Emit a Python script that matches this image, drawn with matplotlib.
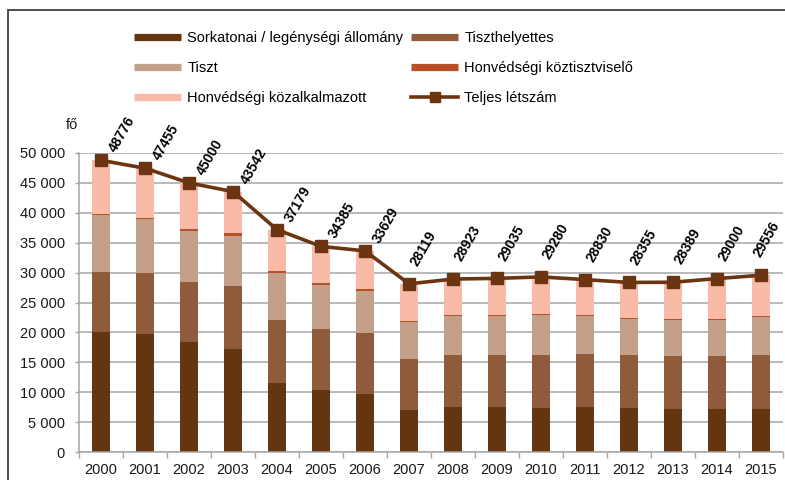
import numpy as np
import matplotlib
matplotlib.use("Agg")
import matplotlib.pyplot as plt
from matplotlib.lines import Line2D
from matplotlib.patches import Rectangle
from matplotlib.ticker import FuncFormatter, FixedLocator

plt.rcParams['font.family'] = ['Liberation Sans', 'DejaVu Sans']
plt.rcParams['font.size'] = 10.5

# Adatok (fő)
evek = ['2000', '2001', '2002', '2003', '2004', '2005', '2006', '2007',
        '2008', '2009', '2010', '2011', '2012', '2013', '2014', '2015']
sorkatonai = [20000, 19800, 18400, 17200, 11500, 10400, 9700, 7000,
              7500, 7500, 7350, 7500, 7350, 7250, 7200, 7200]
tiszthelyettes = [10100, 10200, 10100, 10500, 10600, 10200, 10200, 8550,
                  8700, 8700, 8950, 8900, 8850, 8800, 8900, 9100]
tiszt = [9500, 9000, 8400, 8500, 7800, 7300, 7100, 6250,
         6500, 6500, 6600, 6300, 6000, 5950, 6000, 6300]
koztisztviselo = [200, 200, 400, 400, 300, 300, 300, 100,
                  200, 200, 100, 200, 200, 200, 100, 100]
kozalkalmazott = [8976, 8255, 7700, 6942, 6979, 6185, 6329, 6219,
                  6023, 6135, 6280, 5930, 5955, 6189, 6800, 6856]
teljes = [48776, 47455, 45000, 43542, 37179, 34385, 33629, 28119,
          28923, 29035, 29280, 28830, 28355, 28389, 29000, 29556]

c_sork = '#633511'
c_tiszth = '#8f5b3a'
c_tiszt = '#c4a08a'
c_koztisztv = '#b94f27'
c_kozalk = '#f9baa8'
c_line = '#6b3511'

fig = plt.figure(figsize=(7.85, 4.80), dpi=100)
W, H = 785, 480
ax = fig.add_axes([79 / W, 28 / H, 704 / W, 299 / H])

x = np.arange(len(evek))
w = 0.41
alja = np.zeros(len(evek))
for adat, szin in [(sorkatonai, c_sork), (tiszthelyettes, c_tiszth),
                   (tiszt, c_tiszt), (koztisztviselo, c_koztisztv),
                   (kozalkalmazott, c_kozalk)]:
    ax.bar(x, adat, w, bottom=alja, color=szin, zorder=2)
    alja += np.array(adat)

ax.plot(x, teljes, color=c_line, lw=2.6, marker='s', markersize=8.5, zorder=3)

# feliratok: az elején közelebb a ponthoz, később feljebb
for i, (xi, v) in enumerate(zip(x, teljes)):
    if i <= 6:
        off = (4, 4)
    elif i == len(x) - 1:
        off = (-7, 11)
    else:
        off = (-1, 11)
    ax.annotate(str(v), (xi, v), xytext=off, textcoords='offset points',
                rotation=60, ha='left', va='bottom',
                fontsize=10, fontweight='bold', color='black', annotation_clip=False)

ax.set_xlim(-0.5, len(evek) - 0.5)
ax.set_ylim(0, 50000)
ax.set_yticks(np.arange(0, 50001, 5000))
ax.yaxis.set_major_formatter(FuncFormatter(lambda v, p: f"{v:,.0f}".replace(",", " ")))
ax.grid(axis='y', color='#a6a6a6', lw=1.1, zorder=0)
ax.set_axisbelow(True)

ax.set_xticks(x)
ax.set_xticklabels(evek)
ax.xaxis.set_minor_locator(FixedLocator(np.arange(-0.5, len(evek), 1.0)))
ax.tick_params(axis='x', which='major', length=0, pad=8, labelsize=10.5, labelcolor='#1a1a1a')
ax.tick_params(axis='x', which='minor', length=4, color='#a6a6a6', width=1)
ax.tick_params(axis='y', length=3, color='#a6a6a6', width=1, pad=7, labelsize=10.5, labelcolor='#1a1a1a')

for s in ['top', 'right']:
    ax.spines[s].set_visible(False)
ax.spines['left'].set_color('#a6a6a6')
ax.spines['bottom'].set_color('#a6a6a6')
ax.spines['left'].set_linewidth(1.1)
ax.spines['bottom'].set_linewidth(1.1)

fig.text(72 / W, 1 - 125 / H, 'fő', ha='center', va='center', fontsize=10.5, color='#1a1a1a')

# jelmagyarázat
def sav(c):
    return Line2D([], [], color=c, lw=5.2, solid_capstyle='butt')

kezelok = [sav(c_sork), sav(c_tiszt), sav(c_kozalk),
           sav(c_tiszth), sav(c_koztisztv),
           Line2D([], [], color=c_line, lw=2.6, marker='s', markersize=7)]
cimkek = ['Sorkatonai / legénységi állomány', 'Tiszt', 'Honvédségi közalkalmazott',
          'Tiszthelyettes', 'Honvédségi köztisztviselő', 'Teljes létszám']
fig.legend(kezelok, cimkek, ncol=2, loc='upper left',
           bbox_to_anchor=(134 / W, 1 - 31 / H), frameon=False,
           borderpad=0, borderaxespad=0, handlelength=3.2, handletextpad=0.45,
           columnspacing=0.55, labelspacing=1.1, fontsize=10.5)

# külső keret
fig.add_artist(Rectangle((8 / W, -0.05), 1.0, (H - 10) / H + 0.05,
                         transform=fig.transFigure, fill=False,
                         edgecolor='#404040', lw=1.3))

fig.savefig('out.png', dpi=100)
